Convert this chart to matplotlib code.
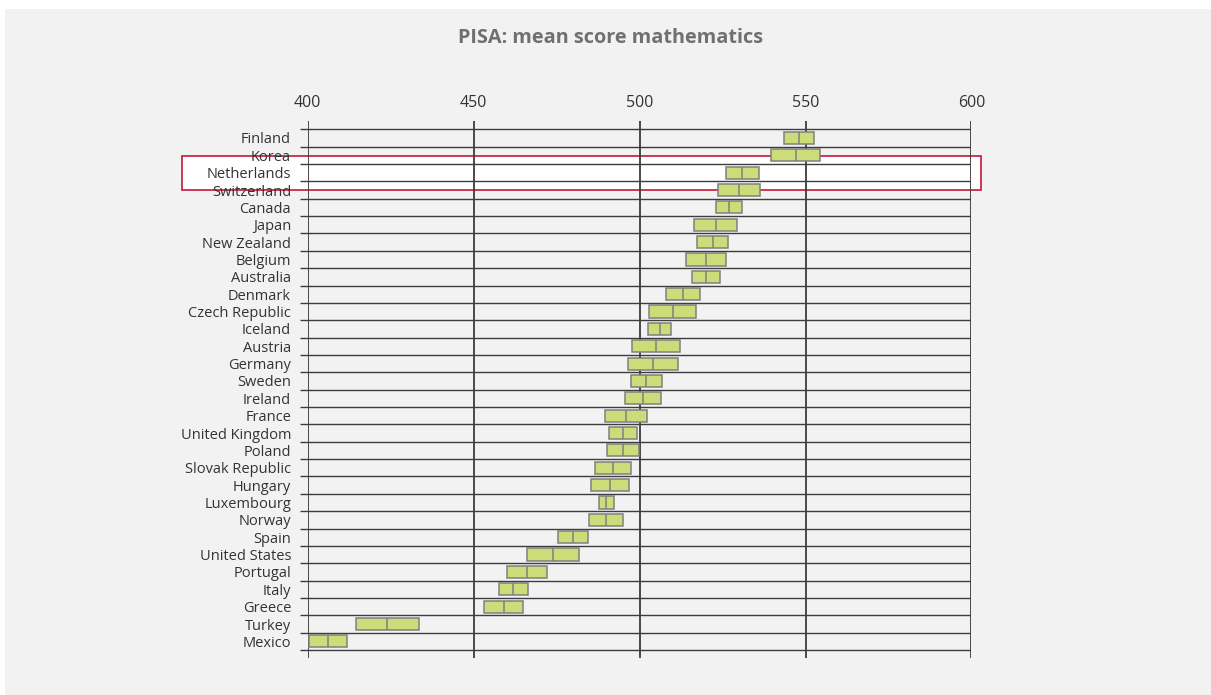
import numpy as np
import matplotlib
matplotlib.use('Agg')
import matplotlib.pyplot as plt
from matplotlib.patches import Rectangle

# data: PISA wiskunde, gemiddelde score met betrouwbaarheidsinterval
landen = ['Finland', 'Korea', 'Netherlands', 'Switzerland', 'Canada', 'Japan',
          'New Zealand', 'Belgium', 'Australia', 'Denmark', 'Czech Republic',
          'Iceland', 'Austria', 'Germany', 'Sweden', 'Ireland', 'France',
          'United Kingdom', 'Poland', 'Slovak Republic', 'Hungary', 'Luxembourg',
          'Norway', 'Spain', 'United States', 'Portugal', 'Italy', 'Greece',
          'Turkey', 'Mexico']
gemiddeld = [548, 547, 531, 530, 527, 523, 522, 520, 520, 513, 510, 506, 505,
             504, 502, 501, 496, 495, 495, 492, 491, 490, 490, 480, 474, 466,
             462, 459, 424, 406]
onder = [543.5, 539.6, 525.9, 523.7, 523.1, 516.5, 517.3, 514.1, 515.7, 507.9,
         502.9, 502.5, 497.7, 496.4, 497.3, 495.5, 489.7, 490.9, 490.3, 486.5,
         485.3, 487.8, 484.9, 475.5, 466.2, 459.9, 457.5, 453.1, 414.4, 400.3]
boven = [552.5, 554.4, 536.1, 536.3, 530.9, 529.5, 526.7, 525.9, 524.3, 518.1,
         517.1, 509.5, 512.3, 511.6, 506.7, 506.5, 502.3, 499.1, 499.7, 497.5,
         496.7, 492.2, 495.1, 484.5, 481.8, 472.1, 466.5, 464.9, 433.6, 411.7]
schaal = [400, 450, 500, 550, 600]
titel = 'PISA: mean score mathematics'
markeer = 'Netherlands'

GROEN = '#cddb78'
RAND = '#808080'
LIJN = '#3c3c3c'
TEKST = '#333333'


def run():
    plt.rcParams['font.family'] = ['Open Sans', 'DejaVu Sans']
    fig = plt.figure(figsize=(12.11, 6.95), dpi=100, facecolor='white')

    # grijze achtergrond
    fig.patches.append(Rectangle((5 / 1211, 0), 1, 1 - 9 / 695,
                                 transform=fig.transFigure, facecolor='#f2f2f2',
                                 edgecolor='none', zorder=-10))

    ax = fig.add_axes([0.2541, 0.0532, 0.5481, 0.772])
    ax.set_facecolor('none')
    n = len(landen)
    y = np.arange(n)

    # markering Nederland
    i = landen.index(markeer)
    ax.add_patch(Rectangle((362, i - 0.99), 241, 1.98, facecolor='white',
                           edgecolor='#c8143c', linewidth=1.2, clip_on=False,
                           zorder=0))

    # rijlijnen en verticale lijnen
    grenzen = np.arange(n + 1) - 0.5
    ax.hlines(grenzen, schaal[0], schaal[-1], color=LIJN, linewidth=1.0, zorder=1)
    ax.set_yticks(grenzen, minor=True)
    ax.tick_params(axis='y', which='minor', length=6, width=1.0, color=LIJN,
                   direction='out')
    ax.vlines(schaal, n - 0.5 + 0.46, -0.5 - 0.45, color=LIJN, linewidth=1.3,
              zorder=1)

    # balken
    ax.barh(y, np.array(boven) - np.array(onder), left=onder, height=0.7,
            color=GROEN, edgecolor=RAND, linewidth=1.1, zorder=3)
    ax.vlines(gemiddeld, y - 0.35, y + 0.35, color=RAND, linewidth=1.1, zorder=4)

    ax.set_xlim(schaal[0], schaal[-1])
    ax.set_ylim(n - 0.5 + 0.46, -0.5 - 0.45)
    ax.xaxis.tick_top()
    ax.set_xticks(schaal)
    ax.set_xticklabels([str(s) for s in schaal])
    ax.tick_params(axis='x', length=0, pad=7.5, labelsize=11.5, labelcolor=TEKST)
    ax.set_yticks(y)
    ax.set_yticklabels(landen)
    ax.tick_params(axis='y', which='major', length=0, pad=12, labelsize=10.5,
                   labelcolor=TEKST)
    for s in ax.spines.values():
        s.set_visible(False)

    fig.text(0.5045, 0.945, titel, ha='center', va='center', fontsize=14.3,
             fontweight='bold', color='#707070')

    fig.savefig('out.png', dpi=100, facecolor=fig.get_facecolor())


if __name__ == '__main__':
    run()
